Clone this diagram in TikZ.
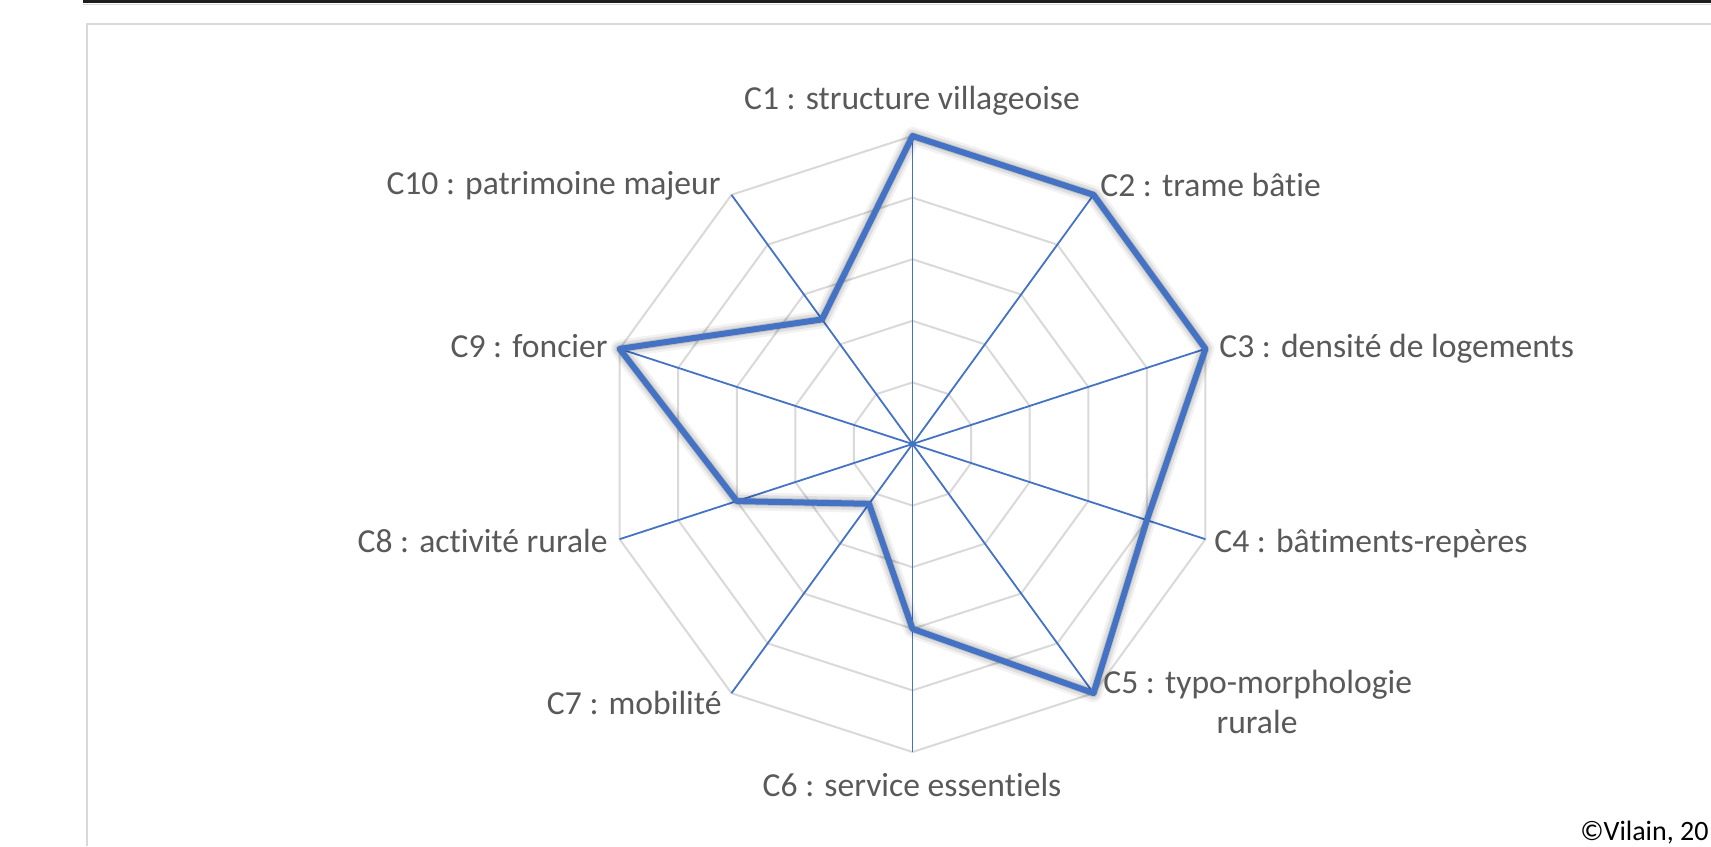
\documentclass[tikz,border=0pt]{standalone}
\usepackage{fontspec}
\setmainfont{Carlito}[Ligatures=NoCommon]
\usetikzlibrary{calc}
\definecolor{axisblue}{HTML}{4472C4}
\definecolor{gridgray}{HTML}{D9D9D9}
\definecolor{labelgray}{HTML}{595959}
\begin{document}
\begin{tikzpicture}[x=0.5pt,y=-0.5pt,
  lab/.style={font=\fontsize{16.8}{20}\selectfont, text=labelgray, inner sep=0pt},
  gridline/.style={draw=gridgray, line width=1pt},
  spoke/.style={draw=axisblue, line width=0.9pt},
  dataline/.style={draw=axisblue, line width=3pt, line join=round},
  shadowline/.style={draw=black, line width=4pt, line join=round},
  framelineA/.style={draw=gridgray, line width=1pt}]
\useasboundingbox (0,0) rectangle (1711,846);
\clip (0,0) rectangle (1711,846);
% top rule and frame
\draw[line width=1.6pt, draw=black!88] (83,1.5) -- (1711,1.5);
\draw[line width=0.5pt, draw=gridgray] (83,4.2) -- (1711,4.2);
\draw[framelineA] (87,846) -- (87,24) -- (1711,24);
% radar geometry
\def\cx{912.5}\def\cy{444}\def\R{308}
\coordinate (c) at (\cx,\cy);
\foreach \k in {1,...,10}{
  \coordinate (o\k) at ({\cx+\R*sin((\k-1)*36)},{\cy-\R*cos((\k-1)*36)});
}
% grid rings
\foreach \lv in {1,...,5}{
  \draw[gridline] ({\cx},{\cy-\R*\lv/5})
    \foreach \k in {2,...,10}{ -- ({\cx+\R*\lv/5*sin((\k-1)*36)},{\cy-\R*\lv/5*cos((\k-1)*36)}) } -- cycle;
}
% spokes
\foreach \k in {1,...,10}{ \draw[spoke] (c) -- (o\k); }
% data points
\foreach \k/\v in {1/5,2/5,3/5,4/4,5/5,6/3,7/1.2,8/3,9/5,10/2.5}{
  \coordinate (d\k) at ({\cx+\R*\v/5*sin((\k-1)*36)},{\cy-\R*\v/5*cos((\k-1)*36)});
}
% shadow
\begin{scope}[shift={(4,6)}]
\draw[shadowline, opacity=0.05, line width=9pt] (d1)--(d2)--(d3)--(d4)--(d5)--(d6)--(d7)--(d8)--(d9)--(d10)--cycle;
\draw[shadowline, opacity=0.08, line width=6.5pt] (d1)--(d2)--(d3)--(d4)--(d5)--(d6)--(d7)--(d8)--(d9)--(d10)--cycle;
\draw[shadowline, opacity=0.12, line width=4pt] (d1)--(d2)--(d3)--(d4)--(d5)--(d6)--(d7)--(d8)--(d9)--(d10)--cycle;
\end{scope}
\draw[dataline] (d1)--(d2)--(d3)--(d4)--(d5)--(d6)--(d7)--(d8)--(d9)--(d10)--cycle;
% labels
\node[lab, anchor=base] (l1) at (912,109) {C1 : structure villageoise};
\node[lab, anchor=base west] (l2) at (1100,196) {C2 : trame bâtie};
\node[lab, anchor=base west] (l3) at (1219,357) {C3 : densité de logements};
\node[lab, anchor=base west] (l4) at (1214,552) {C4 : bâtiments-repères};
\node[lab, anchor=base west] (l5a) at (1103,693) {C5 : typo-morphologie};
\node[lab, anchor=base] (l5b) at (1257,733) {rurale};
\node[lab, anchor=base] (l6) at (912,796) {C6 : service essentiels};
\node[lab, anchor=base east] (l7) at (722,714) {C7 : mobilité};
\node[lab, anchor=base east] (l8) at (608,552) {C8 : activité rurale};
\node[lab, anchor=base east] (l9) at (608,357) {C9 : foncier};
\node[lab, anchor=base east] (l10) at (721,194) {C10 : patrimoine majeur};
\node[font=\fontsize{14}{16}\selectfont, text=black, inner sep=0pt, anchor=base east] (copy) at (1709,840) {©Vilain, 20};
\end{tikzpicture}
\end{document}
